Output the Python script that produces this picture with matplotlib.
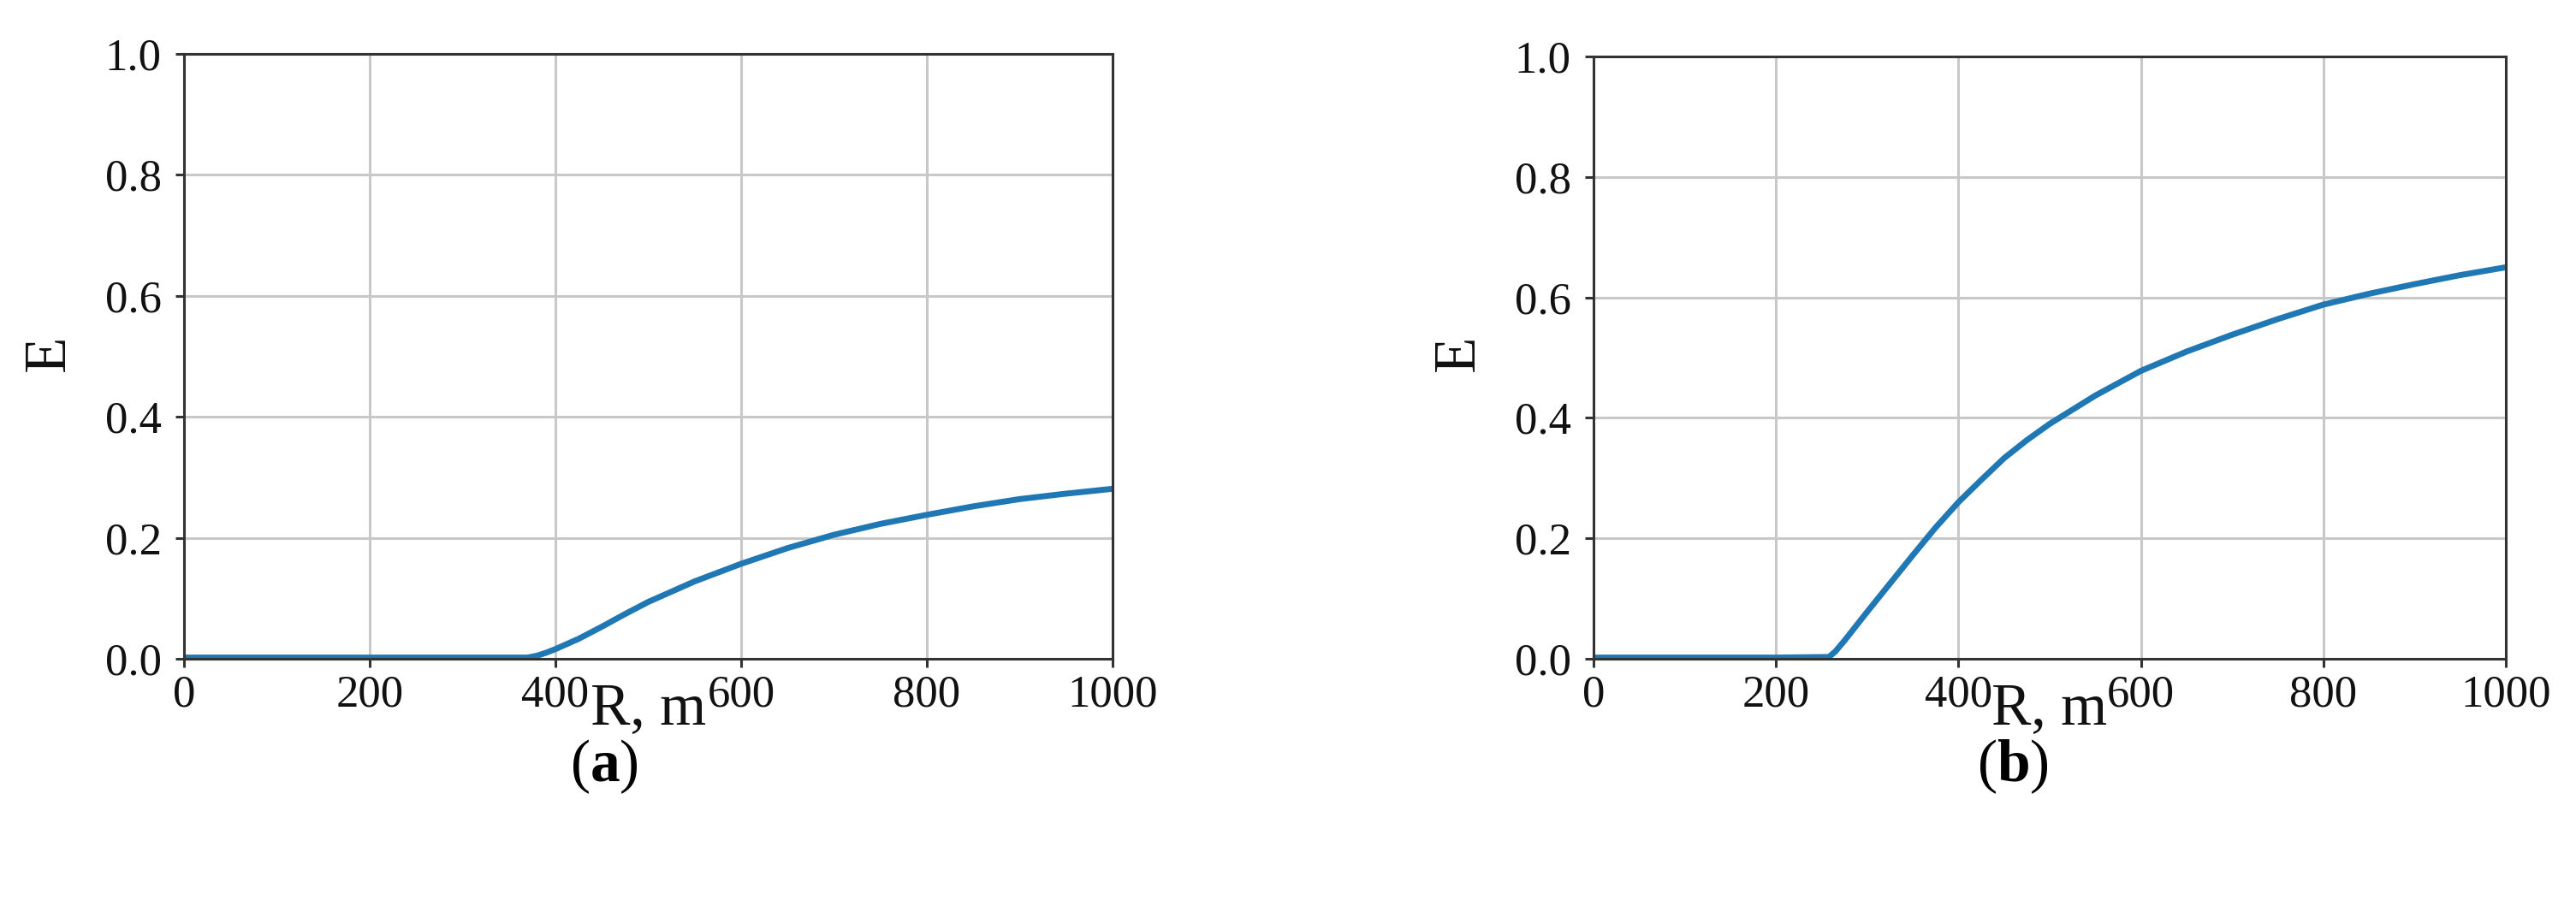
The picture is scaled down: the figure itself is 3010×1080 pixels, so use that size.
import matplotlib
matplotlib.use("Agg")
import matplotlib.pyplot as plt

plt.rcParams["mathtext.fontset"] = "custom"
plt.rcParams["mathtext.rm"] = "Liberation Serif"
plt.rcParams["mathtext.bf"] = "Liberation Serif:bold"

# panel (a)
r_a = [0, 100, 200, 300, 370, 380, 390, 400, 425, 450, 475, 500, 550, 600, 650, 700,
       750, 800, 850, 900, 950, 1000]
e_a = [0.002, 0.002, 0.002, 0.002, 0.002, 0.005, 0.010, 0.016, 0.033, 0.053, 0.074,
       0.094, 0.128, 0.157, 0.183, 0.205, 0.223, 0.238, 0.252, 0.264, 0.273, 0.281]

# panel (b)
r_b = [0, 100, 200, 258, 265, 275, 300, 325, 350, 375, 400, 425, 450, 475, 500, 550,
       600, 650, 700, 750, 800, 850, 900, 950, 1000]
e_b = [0.002, 0.002, 0.002, 0.003, 0.012, 0.030, 0.078, 0.125, 0.172, 0.218, 0.260,
       0.297, 0.333, 0.363, 0.390, 0.437, 0.478, 0.510, 0.538, 0.564, 0.588, 0.606,
       0.622, 0.637, 0.650]

x_ticks = [0, 200, 400, 600, 800, 1000]
y_ticks = [0.0, 0.2, 0.4, 0.6, 0.8, 1.0]
captions = ["a", "b"]

W, H = 3010, 1080
fig = plt.figure(figsize=(W / 100, H / 100), dpi=100)

# axes boxes in pixels: left, top, right, bottom
boxes = [(215, 63, 1300, 770), (1862, 66, 2928, 770)]
caption_x = [706, 2352]

for i, (r, e) in enumerate([(r_a, e_a), (r_b, e_b)]):
    l, t, rr, b = boxes[i]
    ax = fig.add_axes([l / W, 1 - b / H, (rr - l) / W, (b - t) / H])
    ax.plot(r, e, color="#1f77b4", lw=5, solid_capstyle="butt", solid_joinstyle="round")
    ax.set_xlim(0, 1000)
    ax.set_ylim(0, 1)
    ax.set_xticks(x_ticks)
    ax.set_yticks(y_ticks)
    ax.set_yticklabels([f"{v:.1f}" for v in y_ticks])
    ax.grid(True, color="#c8c8c8", lw=2.2)
    ax.set_axisbelow(True)
    for s in ax.spines.values():
        s.set_color("#333333")
        s.set_linewidth(2.2)
    ax.tick_params(length=7, width=2.2, color="#333333", labelsize=38)
    ax.tick_params(axis="y", pad=12)
    ax.tick_params(axis="x", pad=6)
    for lab in ax.get_xticklabels() + ax.get_yticklabels():
        lab.set_family("Liberation Serif")
        lab.set_color("#111111")

    xc = (l + rr) / 2
    fig.text(xc / W, 1 - 829 / H, "R, m", ha="center", va="center",
             fontsize=50, family="Liberation Serif", color="#111111")
    fig.text((l - 157) / W, 1 - 413 / H, "E", ha="center", va="center",
             rotation=90, fontsize=50, family="Liberation Serif", color="#111111")
    fig.text(caption_x[i] / W, 1 - 896 / H,
             r"$\mathrm{(}\mathbf{" + captions[i] + r"}\mathrm{)}$",
             ha="center", va="center", fontsize=50, color="black")

fig.savefig("out.png", dpi=100)
